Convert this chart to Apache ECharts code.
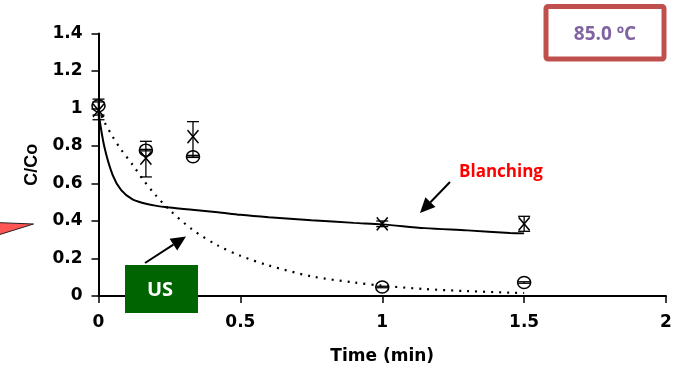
<!DOCTYPE html>
<html>
<head>
<meta charset="utf-8">
<script src="https://cdn.jsdelivr.net/npm/echarts@6/dist/echarts.min.js"></script>
<style>
html,body{margin:0;padding:0;background:#fff;}
#chart{width:680px;height:378px;}
</style>
</head>
<body>
<div id="chart"></div>
<script>
// Measured points (time in min)
const dataTime = [0, 0.167, 0.333, 1, 1.5];
const blanchingMean = [0.99, 0.735, 0.85, 0.385, 0.385];
const blanchingLow = [0.94, 0.635, 0.75, 0.37, 0.345];
const blanchingHigh = [1.05, 0.825, 0.93, 0.40, 0.425];
const usMean = [1.015, 0.778, 0.743, 0.048, 0.072];
const usLow = [0.965, 0.774, 0.739, 0.044, 0.068];
const usHigh = [1.035, 0.782, 0.747, 0.052, 0.076];

// Model curves
const modelTime = [0, 0.02, 0.05, 0.08, 0.12, 0.16, 0.2, 0.25, 0.33, 0.42, 0.5, 0.6, 0.75, 0.9, 1.0, 1.15, 1.3, 1.45, 1.5];
const blanchingModel = [0.98, 0.80, 0.645, 0.565, 0.515, 0.495, 0.482, 0.472, 0.46, 0.447, 0.433, 0.42, 0.404, 0.39, 0.382, 0.362, 0.35, 0.336, 0.334];
const usModel = [1.0, 0.93, 0.85, 0.78, 0.70, 0.615, 0.54, 0.46, 0.355, 0.27, 0.215, 0.163, 0.105, 0.072, 0.055, 0.037, 0.026, 0.018, 0.016];

const xTicks = [0, 0.5, 1, 1.5, 2];
const yTicks = [0, 0.2, 0.4, 0.6, 0.8, 1, 1.2, 1.4];

const zip = (a, b) => a.map((v, i) => [v, b[i]]);
const zip3 = (a, b, c) => a.map((v, i) => [v, b[i], c[i]]);

function errRender(params, api) {
  const x = api.value(0);
  const top = api.coord([x, api.value(2)]);
  const bot = api.coord([x, api.value(1)]);
  const w = 6;
  const st = { stroke: '#000', lineWidth: 1.3 };
  return {
    type: 'group',
    children: [
      { type: 'line', shape: { x1: top[0], y1: top[1], x2: bot[0], y2: bot[1] }, style: st },
      { type: 'line', shape: { x1: top[0] - w, y1: top[1], x2: top[0] + w, y2: top[1] }, style: st },
      { type: 'line', shape: { x1: bot[0] - w, y1: bot[1], x2: bot[0] + w, y2: bot[1] }, style: st }
    ]
  };
}

function arrow(x1, y1, x2, y2) {
  const ang = Math.atan2(y2 - y1, x2 - x1);
  const L = 15, W = 7;
  const bx = x2 - L * Math.cos(ang), by = y2 - L * Math.sin(ang);
  const px = -Math.sin(ang) * W, py = Math.cos(ang) * W;
  return [
    { type: 'line', shape: { x1: x1, y1: y1, x2: bx, y2: by }, style: { stroke: '#000', lineWidth: 2 } },
    { type: 'polygon', shape: { points: [[x2, y2], [bx + px, by + py], [bx - px, by - py]] }, style: { fill: '#000' } }
  ];
}

const chart = echarts.init(document.getElementById('chart'));
const axisFont = { fontFamily: 'DejaVu Sans', fontWeight: 'bold', fontSize: 17, color: '#000' };

chart.setOption({
  animation: false,
  backgroundColor: '#fff',
  grid: { left: 98.5, right: 14, top: 33.5, bottom: 82, containLabel: false },
  xAxis: {
    type: 'value', min: xTicks[0], max: xTicks[xTicks.length - 1], interval: 0.5,
    name: 'Time (min)', nameLocation: 'middle', nameGap: 52,
    nameTextStyle: { fontFamily: 'DejaVu Sans', fontWeight: 'bold', fontSize: 17, color: '#000' },
    axisLine: { lineStyle: { color: '#000', width: 2 } },
    axisTick: { show: true, length: 7, lineStyle: { color: '#000', width: 1.5 } },
    axisLabel: Object.assign({ margin: 18 }, axisFont),
    splitLine: { show: false }
  },
  yAxis: {
    type: 'value', min: yTicks[0], max: yTicks[yTicks.length - 1], interval: 0.2,
    name: 'C/Co', nameLocation: 'middle', nameGap: 57, nameRotate: 90,
    nameTextStyle: { fontFamily: 'Liberation Sans', fontWeight: 'bold', fontSize: 18, color: '#000', padding: [0, 0, 0, 0] },
    axisLine: { show: true, lineStyle: { color: '#000', width: 2 } },
    axisTick: { show: true, length: 7, lineStyle: { color: '#000', width: 1.5 } },
    axisLabel: Object.assign({ margin: 16 }, axisFont),
    splitLine: { show: false }
  },
  series: [
    {
      type: 'line', name: 'Blanching model', data: zip(modelTime, blanchingModel),
      smooth: 0.3, showSymbol: false, lineStyle: { color: '#000', width: 2 }, z: 2
    },
    {
      type: 'line', name: 'US model', data: zip(modelTime, usModel),
      smooth: 0.3, showSymbol: false, lineStyle: { color: '#000', width: 2.2, type: [2, 6] }, z: 2
    },
    { type: 'custom', name: 'Blanching err', renderItem: errRender, data: zip3(dataTime, blanchingLow, blanchingHigh), z: 3 },
    { type: 'custom', name: 'US err', renderItem: errRender, data: zip3(dataTime, usLow, usHigh), z: 3 },
    {
      type: 'scatter', name: 'Blanching', data: zip(dataTime, blanchingMean),
      symbol: 'path://M0,0L10,12M10,0L0,12', symbolSize: [11, 13],
      itemStyle: { color: 'none', borderColor: '#000', borderWidth: 1.5, opacity: 1 }, z: 4
    },
    {
      type: 'scatter', name: 'US', data: zip(dataTime, usMean),
      symbol: 'circle', symbolSize: [13, 12],
      itemStyle: { color: 'none', borderColor: '#000', borderWidth: 1.5, opacity: 1 }, z: 4
    }
  ],
  graphic: [
    { type: 'polygon', shape: { points: [[-5, 222.5], [33.5, 224], [-5, 236]] }, style: { fill: '#ff5555', stroke: '#222', lineWidth: 1 }, z: 10 },
    { type: 'rect', shape: { x: 546, y: 6.5, width: 118, height: 52.5, r: 2 }, style: { fill: '#fff', stroke: '#c0504d', lineWidth: 5 }, z: 10 },
    { type: 'text', style: { x: 605, y: 35, text: '85.0 ºC', fill: '#8064a2', font: 'bold 19px "Open Sans"', textAlign: 'center', textVerticalAlign: 'middle' }, z: 11 },
    { type: 'text', style: { x: 501, y: 172, text: 'Blanching', fill: '#ff0000', font: 'bold 17px "Open Sans"', textAlign: 'center', textVerticalAlign: 'middle' }, z: 11 },
    { type: 'group', children: arrow(450, 182, 420, 213), z: 10 },
    { type: 'rect', shape: { x: 125, y: 265, width: 73, height: 48 }, style: { fill: '#006400' }, z: 10 },
    { type: 'text', style: { x: 160, y: 290, text: 'US', fill: '#fff', font: 'bold 20px "Open Sans"', textAlign: 'center', textVerticalAlign: 'middle' }, z: 11 },
    { type: 'group', children: arrow(145, 263, 186, 236.5), z: 10 }
  ]
});
</script>
</body>
</html>
